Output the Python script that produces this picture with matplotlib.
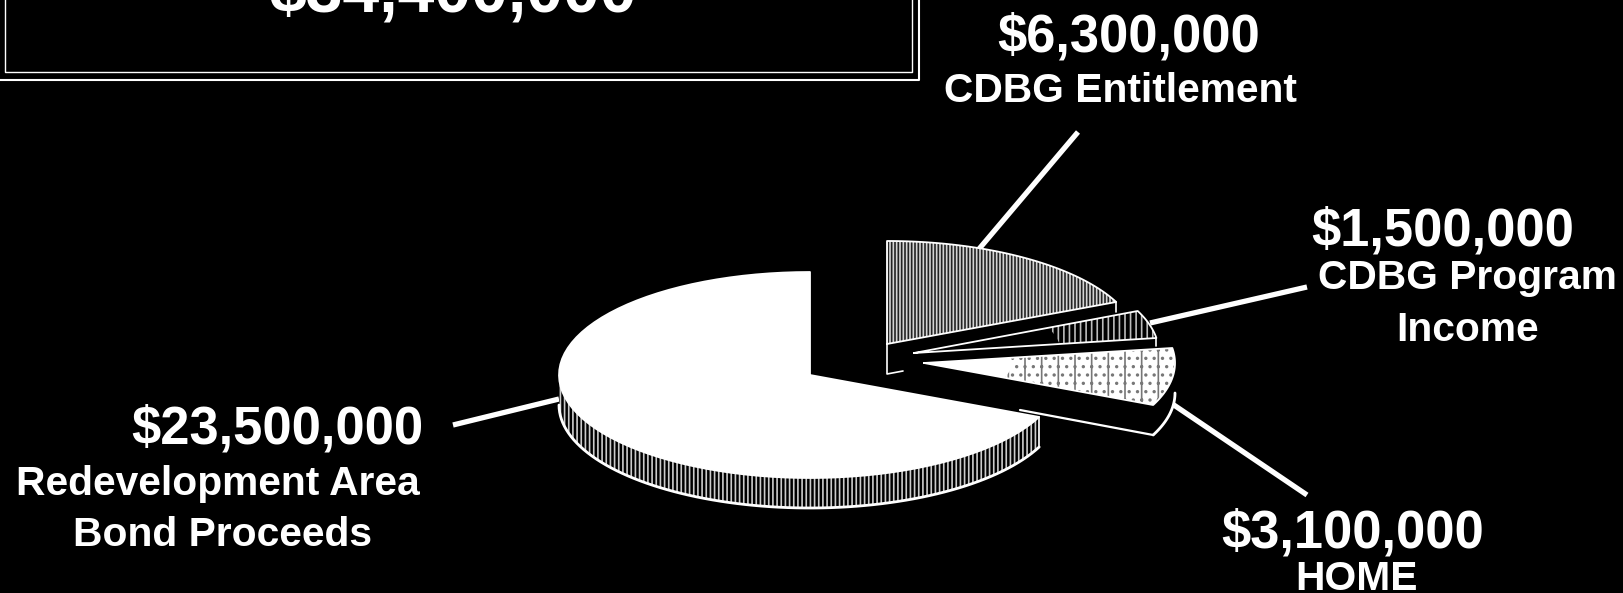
import numpy as np
import matplotlib
matplotlib.use("Agg")
import matplotlib.pyplot as plt
from matplotlib.patches import Polygon

plt.rcParams["font.family"] = ["Liberation Sans", "DejaVu Sans"]
plt.rcParams["hatch.linewidth"] = 1.2

# Funding sources, counter-clockwise from the top of the pie
sources = ["Redevelopment Area\nBond Proceeds", "HOME", "CDBG Program\nIncome", "CDBG Entitlement"]
amounts = [23500000, 3100000, 1500000, 6300000]
total = 34400000

RX, RY, DEPTH = 251, 103, 30

# pixel coordinates so the layout can be compared directly with the reference
fig = plt.figure(figsize=(16.24, 5.93), dpi=100, facecolor="black")
ax = fig.add_axes([0, 0, 1, 1])
ax.set_xlim(0, 1624)
ax.set_ylim(593, 0)
ax.axis("off")


def arc(cx, cy, a0, a1, rx=RX, ry=RY):
    t = np.radians(np.linspace(a0, a1, 80))
    return np.column_stack([cx + rx * np.cos(t), cy - ry * np.sin(t)])


def fill(points, face, hatch=None, edge="white", lw=0.0, zorder=2):
    ax.add_patch(Polygon(points, closed=True, facecolor=face, edgecolor=edge, hatch=hatch, lw=lw, zorder=zorder))


def outline(points, lw=1.6, zorder=2):
    points = np.asarray(points)
    ax.plot(points[:, 0], points[:, 1], color="white", lw=lw, zorder=zorder, solid_capstyle="round")


def draw_wall(cx, cy, lo, hi, rx, side_hatch, zorder):
    rim = arc(cx, cy, lo, hi, rx=rx)
    wall = np.vstack([rim, (rim + [0, DEPTH])[::-1]])
    fill(wall, "black", zorder=zorder)
    if side_hatch:
        fill(wall, "none", hatch=side_hatch, edge="#cccccc", zorder=zorder)
    outline(rim + [0, DEPTH], lw=2.0, zorder=zorder)
    return rim


def draw_top(cx, cy, a0, a1, face, hatch_color=None, hatch=None, hatch_from=0.0, rx=RX, zorder=2):
    apex = np.array([cx, cy])
    pts = np.vstack([apex, arc(cx, cy, a0, a1, rx=rx)])
    fill(pts, face, zorder=zorder + 0.1)
    if hatch:
        inner = arc(cx, cy, a1, a0, rx=rx * hatch_from, ry=RY * hatch_from)
        fill(np.vstack([arc(cx, cy, a0, a1, rx=rx), inner]), "none", hatch=hatch, edge=hatch_color, zorder=zorder + 0.2)
    outline(np.vstack([pts, apex]), lw=1.3, zorder=zorder + 0.3)


# slice angles follow from the amounts
sweep = np.array(amounts) / total * 360
edges = 90 + np.concatenate([[0], np.cumsum(sweep)])
a_home = edges[1] - 360
a_income = edges[2] - 360
a_cdbg = edges[3] - 360
a_top = edges[4] - 360

# leader lines
leaders = [
    ((453, 425), (559, 399)),
    ((1307, 495), (1165, 399)),
    ((1307, 287), (1150, 323)),
    ((1078, 132), (979, 249)),
]
for a, b in leaders:
    ax.plot([a[0], b[0]], [a[1], b[1]], color="white", lw=3.8, zorder=1, solid_capstyle="butt")

# CDBG entitlement, thin frame on the left of its cut face
end = arc(887, 344, a_cdbg, a_cdbg + 0.01)[0]
fill([(887, 344), end, end + [0, 10], (887, 374)], "black", zorder=2)
outline([(903, 371), (887, 374), (887, 344)], lw=1.2, zorder=2)
outline([end, end + [0, 10]], lw=1.2, zorder=2)
draw_top(887, 344, a_cdbg, a_top, "#d4d4d4", "#222222", "|||||", zorder=2)

# CDBG program income, speckle only towards the rim
end = arc(914, 353, a_income, a_income + 0.01, rx=245)[0]
outline([end, end + [0, 8]], lw=1.2, zorder=3)
draw_top(914, 353, a_income, a_cdbg, "black", "#bbbbbb", "|||", hatch_from=0.6, rx=245, zorder=3)

# HOME, black walls with only the bottom edge showing
end = arc(924, 363, a_home, a_home + 0.01)[0]
fill([(924, 363), end, end + [0, DEPTH], (924, 363 + DEPTH)], "black", zorder=4)
outline([end + [0, DEPTH], (1020, 410)], lw=1.6, zorder=4)
draw_wall(924, 363, a_home, 0, RX, None, zorder=4)
draw_top(924, 363, a_home, a_income, "white", "#777777", "|..", hatch_from=0.35, zorder=4)

# large slice last, it covers the HOME cut face
draw_wall(810, 375, 180, edges[1], RX, "||||", zorder=5)
draw_top(810, 375, edges[0], edges[1], "white", zorder=5)
wall_end = arc(810, 375, edges[1], edges[1] + 0.01)[0]
outline([wall_end, wall_end + [0, DEPTH]], lw=1.2, zorder=5)

# framed total, cut off by the top of the page
ax.plot([5, 5, 912, 912], [0, 72, 72, 0], color="white", lw=1.0, zorder=1)
ax.plot([0, 919, 919], [80, 80, 0], color="white", lw=1.5, zorder=1)


def label(x, y, s, size):
    ax.text(x, y, s, color="white", fontsize=size, fontweight="bold", ha="center", va="center", zorder=8)


label(453, -6, f"${total:,}", 47.5)

amount_pos = [(277, 429), (1353, 533), (1443, 231), (1129, 38)]
for (x, y), v in zip(amount_pos, amounts):
    label(x, y, f"${v:,}", 37.8)

name_pos = [
    [(218, 484), (223, 535)],
    [(1357, 579)],
    [(1467, 278), (1468, 330)],
    [(1120, 91)],
]
for pos, name in zip(name_pos, sources):
    for (x, y), line in zip(pos, name.split("\n")):
        label(x, y, line, 29.3)

fig.savefig("out.png", dpi=100, facecolor="black")
